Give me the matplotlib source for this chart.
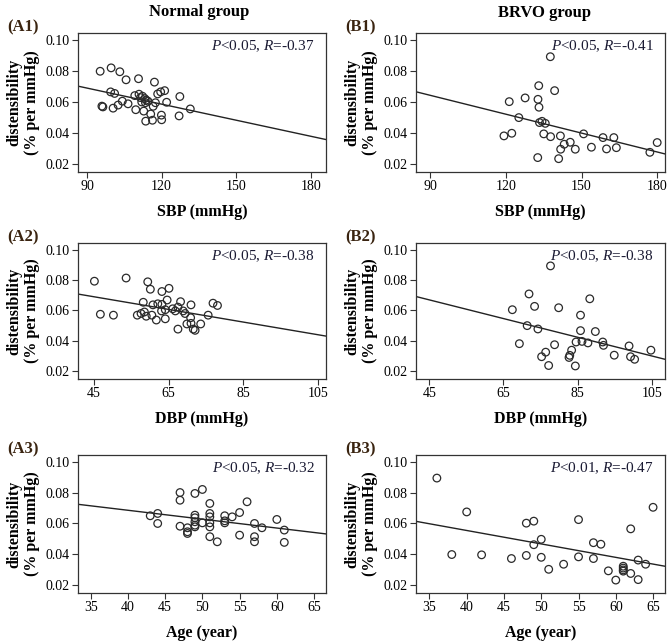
"""Distensibility vs SBP / DBP / age, normal vs BRVO group (6 scatter panels)."""

import matplotlib

matplotlib.use("Agg")
import matplotlib.pyplot as plt

plt.rcParams["font.family"] = ["Liberation Serif", "DejaVu Serif"]
plt.rcParams["mathtext.fontset"] = "custom"
plt.rcParams["mathtext.rm"] = "Liberation Serif"
plt.rcParams["mathtext.it"] = "Liberation Serif:italic"

# ---- values ----
a1_sbp = [95.3, 99.7, 103.2, 105.7, 110.7, 117.1, 99.5, 101.1, 96.0, 96.4,
          100.5, 102.5, 104.2, 106.5, 109.2, 110.9, 112.3, 113.2, 113.8, 114.5,
          109.6, 112.8, 113.6, 116.3, 115.6, 116.6, 117.5, 118.4, 119.6, 121.2,
          122.0, 119.9, 120.0, 127.3, 127.0, 131.5, 112.0, 113.5, 111.5]
a1_dist = [0.0798, 0.0820, 0.0795, 0.0743, 0.0750, 0.0728, 0.0665, 0.0655, 0.0573, 0.0568,
           0.0560, 0.0580, 0.0605, 0.0588, 0.0641, 0.0650, 0.0637, 0.0622, 0.0612, 0.0605,
           0.0550, 0.0541, 0.0476, 0.0482, 0.0522, 0.0572, 0.0595, 0.0652, 0.0665, 0.0673,
           0.0598, 0.0515, 0.0485, 0.0635, 0.0510, 0.0555, 0.0600, 0.0595, 0.0628]

b1_sbp = [137.6, 133.0, 127.6, 121.3, 132.7, 133.1, 139.3, 125.1, 133.3, 134.3,
          135.6, 119.2, 122.3, 135.0, 137.7, 141.6, 150.8, 158.5, 162.8, 141.7,
          143.1, 145.5, 147.5, 153.9, 159.9, 163.8, 177.1, 180.0, 132.6, 140.9]
b1_dist = [0.0892, 0.0705, 0.0626, 0.0602, 0.0617, 0.0566, 0.0673, 0.0499, 0.0467, 0.0475,
           0.0462, 0.0381, 0.0398, 0.0394, 0.0376, 0.0381, 0.0394, 0.0370, 0.0370, 0.0295,
           0.0327, 0.0340, 0.0295, 0.0308, 0.0297, 0.0305, 0.0275, 0.0338, 0.0241, 0.0234]

a2_dbp = [45.1, 53.6, 59.4, 60.1, 63.2, 65.1, 46.7, 50.2, 56.6, 57.6,
          58.5, 59.0, 58.2, 60.8, 62.1, 63.2, 64.6, 60.5, 61.7, 63.1,
          64.1, 64.1, 66.1, 66.8, 67.5, 68.2, 68.9, 71.0, 69.4, 67.5,
          70.9, 69.9, 71.0, 71.6, 72.1, 73.6, 75.6, 76.9, 78.1]
a2_dist = [0.0793, 0.0814, 0.0789, 0.0740, 0.0725, 0.0746, 0.0575, 0.0569, 0.0569, 0.0580,
           0.0590, 0.0562, 0.0654, 0.0637, 0.0644, 0.0640, 0.0669, 0.0569, 0.0537, 0.0597,
           0.0605, 0.0545, 0.0611, 0.0597, 0.0622, 0.0658, 0.0597, 0.0637, 0.0580, 0.0477,
           0.0552, 0.0511, 0.0515, 0.0477, 0.0469, 0.0511, 0.0569, 0.0648, 0.0633]

b2_dbp = [77.7, 71.9, 67.4, 73.4, 79.9, 88.3, 85.8, 71.4, 74.3, 85.8,
          89.8, 69.3, 78.8, 84.6, 86.2, 87.8, 91.8, 92.0, 98.9, 104.8,
          76.4, 75.3, 83.4, 82.9, 82.7, 94.9, 99.3, 100.4, 77.2, 84.4]
b2_dist = [0.0894, 0.0709, 0.0605, 0.0627, 0.0618, 0.0677, 0.0569, 0.0500, 0.0478, 0.0467,
           0.0461, 0.0381, 0.0374, 0.0392, 0.0396, 0.0386, 0.0392, 0.0370, 0.0366, 0.0338,
           0.0325, 0.0295, 0.0338, 0.0304, 0.0290, 0.0305, 0.0295, 0.0278, 0.0237, 0.0234]

a3_age = [43, 44, 44, 47, 47, 49, 50, 47, 48, 48,
          48, 49, 49, 49, 49, 49, 50, 51, 51, 51,
          51, 51, 51, 52, 53, 53, 53, 54, 55, 55,
          56, 57, 57, 57, 58, 60, 61, 61]
a3_dist = [0.0650, 0.0665, 0.0600, 0.0801, 0.0751, 0.0795, 0.0821, 0.0582, 0.0572, 0.0546,
           0.0535, 0.0654, 0.0637, 0.0611, 0.0589, 0.0578, 0.0604, 0.0730, 0.0665, 0.0643,
           0.0604, 0.0578, 0.0514, 0.0481, 0.0650, 0.0617, 0.0604, 0.0643, 0.0671, 0.0524,
           0.0741, 0.0600, 0.0514, 0.0481, 0.0572, 0.0626, 0.0557, 0.0477]

b3_age = [36, 40, 38, 42, 46, 48, 49, 50, 49, 48,
          50, 51, 53, 55, 55, 57, 58, 57, 59, 60,
          61, 61, 61, 61, 62, 62, 63, 63, 64, 65]
b3_dist = [0.0895, 0.0675, 0.0398, 0.0396, 0.0372, 0.0602, 0.0615, 0.0497, 0.0462, 0.0392,
           0.0380, 0.0302, 0.0335, 0.0625, 0.0383, 0.0475, 0.0465, 0.0372, 0.0292, 0.0232,
           0.0322, 0.0310, 0.0298, 0.0290, 0.0565, 0.0275, 0.0362, 0.0235, 0.0335, 0.0705]

# fitted lines as drawn in the figure (A1, B1, A2, B2, A3, B3)
fit_slope = [-0.000346, -0.000406, -0.000417, -0.000616, -0.000578, -0.000874]
fit_intercept = [0.1001, 0.1008, 0.0878, 0.0947, 0.0917, 0.0904]

panel_ids = ["(A1)", "(B1)", "(A2)", "(B2)", "(A3)", "(B3)"]
stats_text = ["$P$<0.05, $R$=-0.37", "$P$<0.05, $R$=-0.41",
              "$P$<0.05, $R$=-0.38", "$P$<0.05, $R$=-0.38",
              "$P$<0.05, $R$=-0.32", "$P$<0.01, $R$=-0.47"]
col_titles = ["Normal group", "BRVO group"]
x_labels = ["SBP (mmHg)", "DBP (mmHg)", "Age (year)"]
x_ticks = [[90, 120, 150, 180], [45, 65, 85, 105], [35, 40, 45, 50, 55, 60, 65]]
x_lims = [[(86.4, 186.0), (84.3, 183.1)],
          [(40.7, 107.2), (41.4, 108.6)],
          [(33.3, 66.6), (33.2, 66.6)]]
y_ticks = [0.02, 0.04, 0.06, 0.08, 0.10]

xs = [a1_sbp, b1_sbp, a2_dbp, b2_dbp, a3_age, b3_age]
ys = [a1_dist, b1_dist, a2_dist, b2_dist, a3_dist, b3_dist]


def main() -> None:
    W, H = 670, 644
    fig = plt.figure(figsize=(W / 100, H / 100), dpi=100)

    col_left = [78, 416]
    col_width = [248, 249]
    row_top = [33, 243, 455]
    row_bottom = [172, 379, 593]

    for i in range(6):
        r, c = divmod(i, 2)
        rect = [col_left[c] / W, (H - row_bottom[r]) / H,
                col_width[c] / W, (row_bottom[r] - row_top[r]) / H]
        ax = fig.add_axes(rect)

        ax.scatter(xs[i], ys[i], s=30, facecolors="none", edgecolors="#2a2a2a",
                   linewidths=0.9, zorder=3)
        ax.axline((0, fit_intercept[i]), slope=fit_slope[i], color="#222222", lw=1.0,
                  zorder=2)

        ax.set_xlim(*x_lims[r][c])
        ax.set_ylim(0.0148, 0.1045)
        ax.set_xticks(x_ticks[r])
        ax.set_yticks(y_ticks)
        ax.set_yticklabels([f"{v:.2f}" for v in y_ticks])
        ax.tick_params(direction="out", length=4, width=0.8, labelsize=10,
                       color="#333333", pad=2)
        for sp in ax.spines.values():
            sp.set_color("#333333")
            sp.set_linewidth(0.9)

        ax.set_xlabel(x_labels[r], fontsize=11.5, fontweight="bold", labelpad=8)
        ax.set_ylabel("distensibility\n(% per mmHg)", fontsize=11.5,
                      fontweight="bold", labelpad=4, linespacing=1.1)

        ax.text(0.955, 0.905, stats_text[i], transform=ax.transAxes, ha="right",
                va="center", fontsize=11, color="#1a1a33")

        fig.text((col_left[c] - 55) / W, 1 - (row_top[r] - 6) / H, panel_ids[i],
                 ha="center", va="center", fontsize=12, fontweight="bold",
                 color="#3a2410")

    fig.text(199 / W, 1 - 12 / H, col_titles[0], ha="center", va="center",
             fontsize=12, fontweight="bold")
    fig.text(545 / W, 1 - 13 / H, col_titles[1], ha="center", va="center",
             fontsize=12, fontweight="bold")

    fig.savefig("out.png", dpi=100)


if __name__ == "__main__":
    main()
